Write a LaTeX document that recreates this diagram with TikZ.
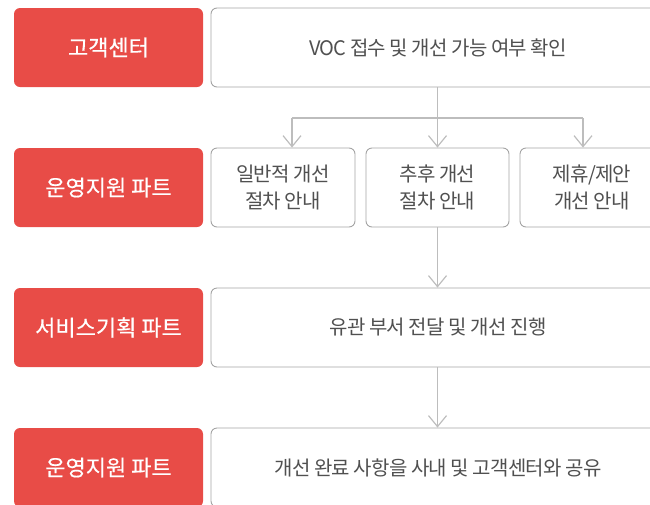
\documentclass[tikz,border=0pt]{standalone}
\usepackage{fontspec}
\setmainfont{Noto Sans CJK KR}
\newfontfamily\partfont[FakeBold=0.5]{Noto Sans CJK KR}
\newfontfamily\stepfont[LetterSpace=-4]{Noto Sans CJK KR}
\usepackage{xcolor}
\usepackage{tikz}
\usetikzlibrary{positioning}
\usetikzlibrary{arrows.meta}

\definecolor{partred}{HTML}{E84C47}
\definecolor{boxline}{HTML}{A3A3A3}
\definecolor{flowline}{HTML}{BDBDBD}
\definecolor{steptext}{HTML}{505050}

\tikzset{
    part/.style={fill=partred, rounded corners=6pt, minimum width=189pt, minimum height=79pt,
        text=white, font=\partfont\fontsize{22}{26}\selectfont},
    task/.style={draw=boxline, line width=0.9pt, rounded corners=6pt, minimum height=79pt,
        text=steptext, align=center, font=\stepfont\fontsize{20}{27}\selectfont},
    flow/.style={draw=flowline, line width=1.2pt}
}

\begin{document}
\begin{tikzpicture}[x=1pt, y=-1pt, >={Straight Barb[length=11pt,width=18pt]}]
\clip (0,0) rectangle (650,504);

% Draw the part labels
\node[part] (cs) at (108.5,47.5) {고객센터};
\node[part] (ops) at (108.5,187.5) {운영지원 파트};
\node[part] (plan) at (108.5,327.5) {서비스기획 파트};
\node[part] (ops2) at (108.5,467.5) {운영지원 파트};

% Draw the steps
\node[task, minimum width=454pt] (voc) at (438,47.5) {VOC 접수 및 개선 가능 여부 확인};
\node[task, minimum width=144pt] (general) at (283,187.5) {일반적 개선\\절차 안내};
\node[task, minimum width=143pt] (later) at (437.5,187.5) {추후 개선\\절차 안내};
\node[task, minimum width=144pt] (partner) at (592,187.5) {제휴/제안\\개선 안내};
\node[task, minimum width=454pt] (dept) at (438,327.5) {유관 부서 전달 및 개선 진행};
\node[task, minimum width=454pt] (share) at (438,467.5) {개선 완료 사항을 사내 및 고객센터와 공유};

% Branch points
\coordinate (bl) at (292,118);
\coordinate (bm) at (437.5,118);
\coordinate (br) at (583,118);

% Draw the connectors
\draw[flow] (voc.south -| bm) -- (bm);
\draw[flow] (bl) -- (br);
\draw[flow,->] (bl) -- (bl |- general.north);
\draw[flow,->] (bm) -- (bm |- later.north);
\draw[flow,->] (br) -- (br |- partner.north);
\draw[flow,->] (later.south) -- (later.south |- dept.north);
\draw[flow,->] (dept.south -| later.south) -- (later.south |- share.north);
\end{tikzpicture}
\end{document}
